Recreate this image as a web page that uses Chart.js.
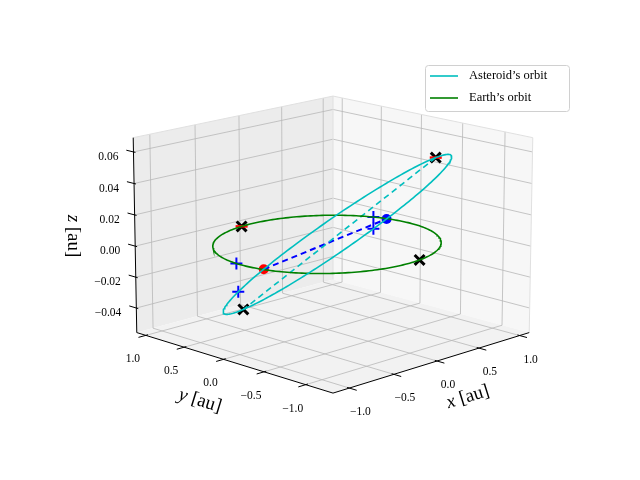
<!DOCTYPE html>
<html><head><meta charset="utf-8">
<script src="https://cdn.jsdelivr.net/npm/chart.js@4.4.1/dist/chart.umd.min.js"></script>
<style>html,body{margin:0;padding:0;background:#fff}canvas{display:block}</style>
</head><body><canvas id="c" width="640" height="480"></canvas>
<script>
// ---- data (au) ----
const xTicks=[-1.0,-0.5,0.0,0.5,1.0];
const yTicks=[-1.0,-0.5,0.0,0.5,1.0];
const zTicks=[-0.04,-0.02,0.00,0.02,0.04,0.06];
const xLim=[-1.18,1.12], yLim=[-1.32,1.12], zLim=[-0.056,0.069];
const earthRadius=1.0;
const astA=1.0, astE=0.1, astNodeDeg=13.9, astIncDeg=-3.46, astPeriArgDeg=90;
const earthCrossLon=[97.0,-80.9];      // black x on Earth's orbit (deg)
const earthRedLon=[97.0];
const earthPlusLon=[176.0,22.0];       // blue + on Earth's orbit
const astPlusAnom=[160.0,7.5];         // blue + on asteroid orbit (angle from node, deg)
const labels=["Asteroid\u2019s orbit","Earth\u2019s orbit"];

// ---- projection ----
const EL=14.8*Math.PI/180, AZ=-135*Math.PI/180, DIST=20.5, SC=2870, CX=333, CY=236, ZA=0.72;
const XM=(xLim[0]+xLim[1])/2, XH=(xLim[1]-xLim[0])/2, YM=(yLim[0]+yLim[1])/2, YH=(yLim[1]-yLim[0])/2, ZM=(zLim[0]+zLim[1])/2, ZH=(zLim[1]-zLim[0])/2;
const r=[-Math.sin(AZ),Math.cos(AZ),0], ed=[Math.cos(EL)*Math.cos(AZ),Math.cos(EL)*Math.sin(AZ),Math.sin(EL)], up=[-Math.sin(EL)*Math.cos(AZ),-Math.sin(EL)*Math.sin(AZ),Math.cos(EL)];
function P(x,y,z){const X=(x-XM)/XH,Y=(y-YM)/YH,Z=(z-ZM)/ZH*ZA;const pr=X*r[0]+Y*r[1],pe=X*ed[0]+Y*ed[1]+Z*ed[2],pu=X*up[0]+Y*up[1]+Z*up[2];const d=DIST-pe;return {x:CX+SC*pr/d,y:CY-SC*pu/d};}
const d2r=Math.PI/180;
function earthPt(lon){return [earthRadius*Math.cos(lon*d2r),earthRadius*Math.sin(lon*d2r),0];}
const On=astNodeDeg*d2r, inc=astIncDeg*d2r;
const nV=[Math.cos(On),Math.sin(On),0], mV=[-Math.sin(On)*Math.cos(inc),Math.cos(On)*Math.cos(inc),Math.sin(inc)];
function astPt(phiDeg){const ph=phiDeg*d2r;const rr=astA*(1-astE*astE)/(1+astE*Math.cos(ph-astPeriArgDeg*d2r));const c=Math.cos(ph)*rr,s=Math.sin(ph)*rr;return [c*nV[0]+s*mV[0],c*nV[1]+s*mV[1],c*nV[2]+s*mV[2]];}
const pj=p=>P(p[0],p[1],p[2]);
const N=240, earthOrbit=[], astOrbit=[];
for(let k=0;k<=N;k++){earthOrbit.push(pj(earthPt(360*k/N)));astOrbit.push(pj(astPt(360*k/N)));}
const peri=astPt(astPeriArgDeg), aph=astPt(astPeriArgDeg+180);
const nodeAsc=astPt(0), nodeDesc=astPt(180);

// ---- box plugin ----
const boxPlugin={id:'box',beforeDatasetsDraw(ch){const c=ch.ctx;c.save();
 const [x0,x1]=xLim,[y0,y1]=yLim,[z0,z1]=zLim;
 function poly(pts,fill){c.beginPath();pts.forEach((p,i)=>{const q=P(...p);i?c.lineTo(q.x,q.y):c.moveTo(q.x,q.y)});c.closePath();c.fillStyle=fill;c.fill();}
 poly([[x0,y1,z0],[x1,y1,z0],[x1,y1,z1],[x0,y1,z1]],'#ececec');
 poly([[x1,y0,z0],[x1,y1,z0],[x1,y1,z1],[x1,y0,z1]],'#f7f7f7');
 poly([[x0,y0,z0],[x1,y0,z0],[x1,y1,z0],[x0,y1,z0]],'#f2f2f2');
 function seg(a,b,col,w){const p=P(...a),q=P(...b);c.beginPath();c.moveTo(p.x,p.y);c.lineTo(q.x,q.y);c.strokeStyle=col;c.lineWidth=w;c.stroke();}
 const g='#b8b8b8';
 xTicks.forEach(x=>{seg([x,y0,z0],[x,y1,z0],g,0.8);seg([x,y1,z0],[x,y1,z1],g,0.8);});
 yTicks.forEach(y=>{seg([x0,y,z0],[x1,y,z0],g,0.8);seg([x1,y,z0],[x1,y,z1],g,0.8);});
 zTicks.forEach(z=>{seg([x0,y1,z],[x1,y1,z],g,0.8);seg([x1,y0,z],[x1,y1,z],g,0.8);});
 const e='#e0e0e0';
 seg([x0,y1,z1],[x1,y1,z1],e,1);seg([x1,y1,z1],[x1,y0,z1],e,1);seg([x1,y1,z0],[x1,y1,z1],e,1);seg([x1,y0,z0],[x1,y0,z1],e,1);
 seg([x0,y0,z0],[x1,y0,z0],'#000',1);seg([x0,y0,z0],[x0,y1,z0],'#000',1);seg([x0,y1,z0],[x0,y1,z1],'#000',1);
 const dy=(y1-y0)*0.035,dx=(x1-x0)*0.035;
 c.font='11.5px "Liberation Serif", "DejaVu Serif", serif';c.fillStyle='#000';c.textBaseline='middle';
 const fmt=v=>(v<0?'\u2212':'')+Math.abs(v).toFixed(1);
 xTicks.forEach(x=>{seg([x,y0-dy,z0],[x,y0+dy*0.3,z0],'#000',1);const p=P(x,y0,z0);c.textAlign='center';c.fillText(fmt(x),p.x+11,p.y+24);});
 yTicks.forEach(y=>{seg([x0-dx,y,z0],[x0+dx*0.3,y,z0],'#000',1);const p=P(x0,y,z0);c.textAlign='center';c.fillText(fmt(y),p.x-13,p.y+24);});
 zTicks.forEach(z=>{seg([x0,y1+dy*1.1,z],[x0,y1-dy*0.3,z],'#000',1);const p=P(x0,y1,z);c.textAlign='right';c.fillText((z<0?'\u2212':'')+Math.abs(z).toFixed(2),p.x-15,p.y+5);});
 function lab(txt,cx,cy,rot){c.save();c.translate(cx,cy);c.rotate(rot);c.font='italic 19px "Liberation Serif", serif';const w1=c.measureText(txt).width;c.font='19px "Liberation Serif", serif';const w2=c.measureText(' [au]').width;const s=-(w1+w2)/2;c.textAlign='left';c.font='italic 19px "Liberation Serif", serif';c.fillText(txt,s,0);c.font='19px "Liberation Serif", serif';c.fillText(' [au]',s+w1,0);c.restore();}
 lab('x',468,397,-17.3*d2r);lab('y',200,401,17.2*d2r);lab('z',73,236,90*d2r);
 c.restore();},
 afterDatasetsDraw(ch){const c=ch.ctx;c.save();
  c.beginPath();c.roundRect(425.5,65.5,144,46,3);c.fillStyle='rgba(255,255,255,0.85)';c.fill();c.strokeStyle='#d0d0d0';c.lineWidth=1;c.stroke();
  [['#00bfbf',76],['#008000',98]].forEach((a,i)=>{c.beginPath();c.moveTo(430,a[1]);c.lineTo(458,a[1]);c.strokeStyle=a[0];c.lineWidth=1.6;c.stroke();
   c.fillStyle='#000';c.font='12.5px "Liberation Serif", serif';c.textAlign='left';c.textBaseline='middle';c.fillText(labels[i],469,a[1]);});
  c.restore();}
};
const line=(data,col,dash,w)=>({data,showLine:true,borderColor:col,borderWidth:w||1.6,borderDash:dash||[],pointRadius:0,fill:false,tension:0});
const pts=(arr,style,col,rad,bw,fillc)=>({data:arr.map(pj),showLine:false,pointStyle:style,pointRadius:rad,borderColor:col,backgroundColor:fillc||col,pointBorderWidth:bw,pointHoverRadius:rad});
new Chart(document.getElementById('c'),{type:'scatter',
 data:{datasets:[
  line(astOrbit,'#00bfbf'),
  line(earthOrbit,'#008000'),
  line([pj(aph),pj(peri)],'#00bfbf',[6,4]),
  line([pj(nodeDesc),pj(nodeAsc)],'#0000ff',[6,4],2),
  pts([aph,...earthRedLon.map(earthPt)],'line','#ff0000',6,2.5),
  pts([nodeDesc],'circle','#ff0000',5,0),
  pts([nodeAsc],'circle','#0000ff',5,0),
  pts([...earthPlusLon.map(earthPt),...astPlusAnom.map(astPt)],'cross','#0000ff',6,2),
  pts([aph,peri,...earthCrossLon.map(earthPt)],'crossRot','#000',7,3),
 ]},
 options:{responsive:false,animation:false,events:[],layout:{padding:0},
  plugins:{legend:{display:false},tooltip:{enabled:false}},
  scales:{x:{type:'linear',min:0,max:640,display:false},y:{type:'linear',min:0,max:480,reverse:true,display:false}}},
 plugins:[boxPlugin]});
</script></body></html>
